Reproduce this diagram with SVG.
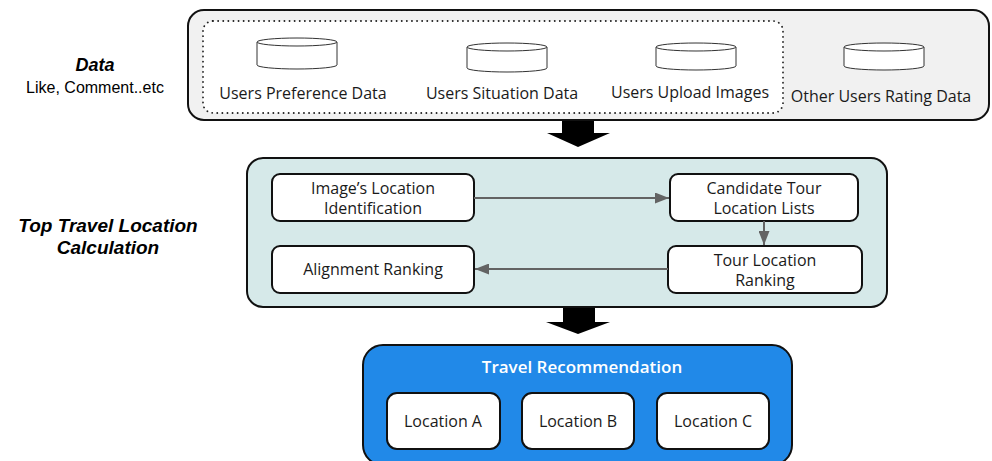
<svg xmlns="http://www.w3.org/2000/svg" width="992" height="461" viewBox="0 0 992 461">
<style>
.lbl{font-family:"Open Sans","Liberation Sans",sans-serif;font-size:16px;fill:#1a1a1a;text-anchor:middle}
.side{font-family:"Liberation Sans",Arial,sans-serif;fill:#000;text-anchor:middle}
.cyl{fill:#fff;stroke:#333;stroke-width:1}
.box{fill:#fff;stroke:#111;stroke-width:2}
.conn{stroke:#636363;stroke-width:2;fill:none}
.big{fill:#000}
</style>
<defs>
<marker id="ah" viewBox="0 0 10 10" refX="10" refY="5" markerWidth="7" markerHeight="5.5" markerUnits="strokeWidth" orient="auto" preserveAspectRatio="none">
<path d="M0,0 L10,5 L0,10 Z" fill="#636363"/>
</marker>
</defs>

<g id="data-label">
<text class="side" x="95" y="71" font-size="18" font-weight="bold" font-style="italic">Data</text>
<text class="side" x="95" y="93" font-size="16">Like, Comment..etc</text>
</g>

<g id="calc-label">
<text class="side" x="108" y="232" font-size="19" font-weight="bold" font-style="italic">Top Travel Location</text>
<text class="side" x="108" y="254" font-size="19" font-weight="bold" font-style="italic">Calculation</text>
</g>

<g id="data-panel">
<rect x="188" y="10" width="801" height="110" rx="16" fill="#f1f1f1" stroke="#111" stroke-width="2"/>
<rect x="203" y="21" width="580" height="92" rx="10" fill="#fff" stroke="#222" stroke-width="1.8" stroke-dasharray="0.1 5" stroke-linecap="round"/>
</g>

<g id="users-preference">
<path class="cyl" d="M257,42 L257,65 A40,4 0 0 0 337,65 L337,42"/>
<ellipse class="cyl" cx="297" cy="42" rx="40" ry="4"/>
<text class="lbl" x="303" y="99">Users Preference Data</text>
</g>
<g id="users-situation">
<path class="cyl" d="M467,47 L467,68 A40,4 0 0 0 547,68 L547,47"/>
<ellipse class="cyl" cx="507" cy="47" rx="40" ry="4"/>
<text class="lbl" x="502" y="99">Users Situation Data</text>
</g>
<g id="users-upload">
<path class="cyl" d="M656,47 L656,66 A40,4 0 0 0 736,66 L736,47"/>
<ellipse class="cyl" cx="696" cy="47" rx="40" ry="4"/>
<text class="lbl" x="690" y="98">Users Upload Images</text>
</g>
<g id="other-users">
<path class="cyl" d="M844,47 L844,66 A40,4 0 0 0 924,66 L924,47"/>
<ellipse class="cyl" cx="884" cy="47" rx="40" ry="4"/>
<text class="lbl" x="881" y="102">Other Users Rating Data</text>
</g>

<g id="calc-panel">
<rect x="247" y="158" width="640" height="149" rx="16" fill="#d6e9e9" stroke="#111" stroke-width="2"/>
</g>

<g id="image-location">
<rect class="box" x="272" y="174" width="202" height="47" rx="8"/>
<text class="lbl" x="373" y="194">Image’s Location</text>
<text class="lbl" x="373" y="214">Identification</text>
</g>
<g id="candidate-lists">
<rect class="box" x="670" y="174" width="188" height="47" rx="8"/>
<text class="lbl" x="764" y="194">Candidate Tour</text>
<text class="lbl" x="764" y="214">Location Lists</text>
</g>
<g id="tour-ranking">
<rect class="box" x="668" y="246" width="194" height="47" rx="8"/>
<text class="lbl" x="765" y="266">Tour Location</text>
<text class="lbl" x="765" y="286">Ranking</text>
</g>
<g id="alignment-ranking">
<rect class="box" x="272" y="246" width="202" height="47" rx="8"/>
<text class="lbl" x="373" y="275">Alignment Ranking</text>
</g>

<g id="rec-panel">
<rect x="363" y="345" width="429" height="120" rx="20" fill="#2189e8" stroke="#111" stroke-width="2"/>
<text x="582" y="373" font-family="Open Sans,Liberation Sans,sans-serif" font-size="17" font-weight="600" fill="#fff" text-anchor="middle">Travel Recommendation</text>
</g>
<g id="location-a">
<rect class="box" x="387" y="393" width="113" height="56" rx="10"/>
<text class="lbl" x="443" y="427">Location A</text>
</g>
<g id="location-b">
<rect class="box" x="522" y="393" width="112" height="56" rx="10"/>
<text class="lbl" x="578" y="427">Location B</text>
</g>
<g id="location-c">
<rect class="box" x="657" y="393" width="112" height="56" rx="10"/>
<text class="lbl" x="713" y="427">Location C</text>
</g>

<g id="connectors">
<path class="big" d="M562,121 L594,121 L594,133 L610,133 L578,147 L547,133 L562,133 Z"/>
<path class="big" d="M563,308 L595,308 L595,322 L610,322 L578,334 L546,322 L563,322 Z"/>
<line class="conn" x1="474" y1="198" x2="669" y2="198" marker-end="url(#ah)"/>
<line class="conn" x1="764" y1="221" x2="764" y2="245" marker-end="url(#ah)"/>
<line class="conn" x1="668" y1="269" x2="475" y2="269" marker-end="url(#ah)"/>
</g>
</svg>
